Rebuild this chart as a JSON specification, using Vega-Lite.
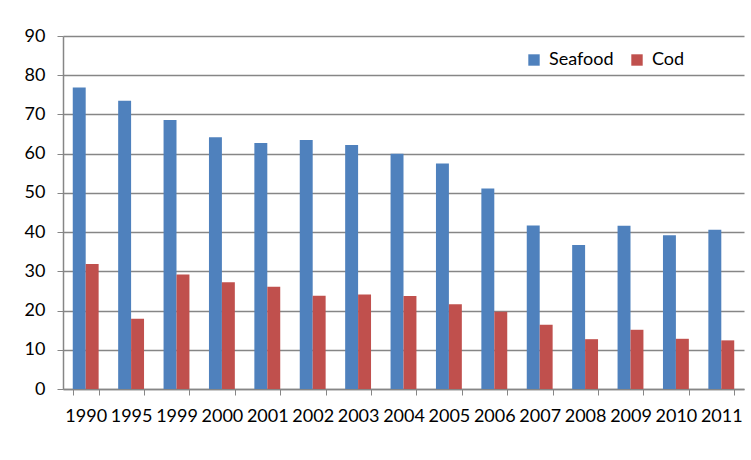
{
  "$schema": "https://vega.github.io/schema/vega-lite/v6.json",
  "autosize": "none",
  "width": 681,
  "height": 353,
  "padding": {"left": 63, "top": 36, "right": 7, "bottom": 71},
  "background": "white",
  "config": {
    "font": "Lato",
    "view": {"stroke": null},
    "axis": {"labelFont": "Lato", "labelFontSize": 18, "labelColor": "#000000", "titleFont": "Lato"}
  },
  "data": {
    "values": [
      {"year": "1990", "series": "Seafood", "value": 76.9},
      {"year": "1995", "series": "Seafood", "value": 73.5},
      {"year": "1999", "series": "Seafood", "value": 68.6},
      {"year": "2000", "series": "Seafood", "value": 64.2},
      {"year": "2001", "series": "Seafood", "value": 62.7},
      {"year": "2002", "series": "Seafood", "value": 63.5},
      {"year": "2003", "series": "Seafood", "value": 62.2},
      {"year": "2004", "series": "Seafood", "value": 60.0},
      {"year": "2005", "series": "Seafood", "value": 57.5},
      {"year": "2006", "series": "Seafood", "value": 51.1},
      {"year": "2007", "series": "Seafood", "value": 41.7},
      {"year": "2008", "series": "Seafood", "value": 36.7},
      {"year": "2009", "series": "Seafood", "value": 41.6},
      {"year": "2010", "series": "Seafood", "value": 39.2},
      {"year": "2011", "series": "Seafood", "value": 40.6},
      {"year": "1990", "series": "Cod", "value": 31.9},
      {"year": "1995", "series": "Cod", "value": 17.9},
      {"year": "1999", "series": "Cod", "value": 29.2},
      {"year": "2000", "series": "Cod", "value": 27.2},
      {"year": "2001", "series": "Cod", "value": 26.1},
      {"year": "2002", "series": "Cod", "value": 23.8},
      {"year": "2003", "series": "Cod", "value": 24.1},
      {"year": "2004", "series": "Cod", "value": 23.7},
      {"year": "2005", "series": "Cod", "value": 21.6},
      {"year": "2006", "series": "Cod", "value": 19.7},
      {"year": "2007", "series": "Cod", "value": 16.4},
      {"year": "2008", "series": "Cod", "value": 12.7},
      {"year": "2009", "series": "Cod", "value": 15.1},
      {"year": "2010", "series": "Cod", "value": 12.8},
      {"year": "2011", "series": "Cod", "value": 12.4}
    ]
  },
  "mark": {"type": "bar"},
  "encoding": {
    "x": {
      "field": "year",
      "type": "nominal",
      "sort": null,
      "scale": {"paddingInner": 0.43, "paddingOuter": 0.215},
      "axis": {
        "title": null,
        "labelAngle": 0,
        "tickBand": "extent",
        "tickSize": 6,
        "tickColor": "#868686",
        "domainColor": "#868686",
        "domainWidth": 1.5,
        "labelPadding": 12,
        "grid": false
      }
    },
    "xOffset": {
      "field": "series",
      "type": "nominal",
      "sort": ["Seafood", "Cod"],
      "scale": {"paddingInner": 0, "paddingOuter": 0}
    },
    "y": {
      "field": "value",
      "type": "quantitative",
      "scale": {"domain": [0, 90], "nice": false},
      "axis": {
        "title": null,
        "values": [0, 10, 20, 30, 40, 50, 60, 70, 80, 90],
        "tickSize": 6,
        "tickColor": "#868686",
        "domainColor": "#868686",
        "domainWidth": 1.5,
        "gridColor": "#868686",
        "gridWidth": 1.5,
        "labelPadding": 12
      }
    },
    "color": {
      "field": "series",
      "type": "nominal",
      "sort": ["Seafood", "Cod"],
      "scale": {"domain": ["Seafood", "Cod"], "range": ["#4F81BD", "#C0504D"]},
      "legend": {
        "title": null,
        "orient": "none",
        "legendX": 462,
        "legendY": 15,
        "direction": "horizontal",
        "symbolType": "square",
        "symbolSize": 130,
        "symbolStrokeWidth": 0,
        "labelFont": "Lato",
        "labelFontSize": 18,
        "labelColor": "#000000",
        "labelOffset": 6,
        "columnPadding": 14,
        "padding": 0
      }
    }
  }
}
